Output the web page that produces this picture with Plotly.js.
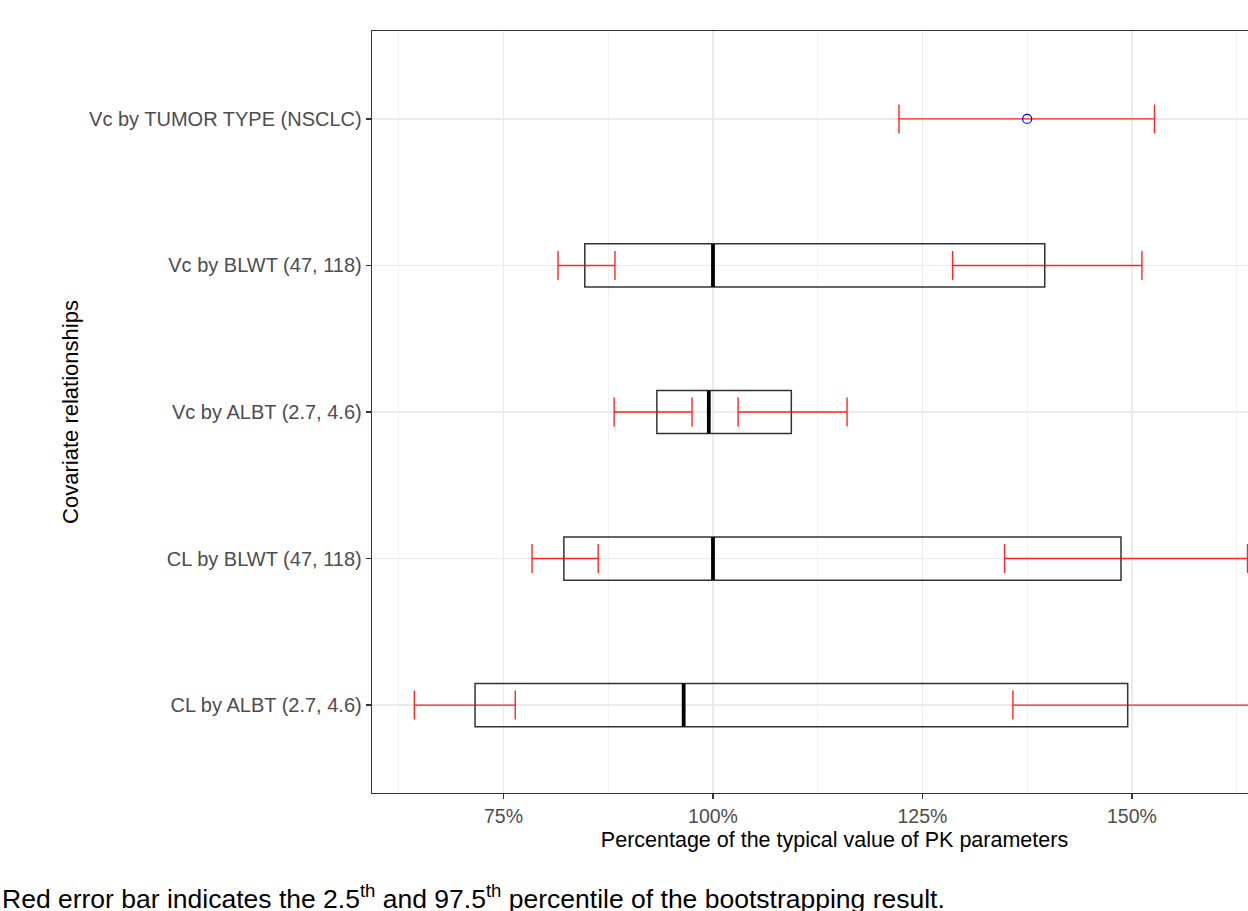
<!DOCTYPE html>
<html>
<head>
<meta charset="utf-8">
<script src="https://cdn.plot.ly/plotly-3.0.1.min.js"></script>
<style>
  html, body { margin: 0; padding: 0; overflow: hidden; background: #ffffff; }
  #chart { width: 1297px; height: 911px; }
</style>
</head>
<body>
<div id="chart"></div>
<script>
// Categories (bottom to top)
const categories = [
  "CL by ALBT (2.7, 4.6)",
  "CL by BLWT (47, 118)",
  "Vc by ALBT (2.7, 4.6)",
  "Vc by BLWT (47, 118)",
  "Vc by TUMOR TYPE (NSCLC)"
];
// Box (effect range) and median, in % of typical value
const boxLow  = [71.6, 82.2, 93.3, 84.7, null];
const boxHigh = [149.5, 148.7, 109.35, 139.6, null];
const median  = [96.5, 100.0, 99.5, 100.0, null];
// Bootstrap CI for the low end of each box
const lowCiLo = [64.35, 78.4, 88.2, 81.5, null];
const lowCiHi = [76.4, 86.3, 97.5, 88.3, null];
// Bootstrap CI for the high end of each box
const highCiLo = [135.8, 134.8, 103.0, 128.6, null];
const highCiHi = [168.0, 163.8, 116.0, 151.2, null];
// Categorical covariate: point estimate and its CI
const pointEst  = [null, null, null, null, 137.5];
const pointCiLo = [null, null, null, null, 122.2];
const pointCiHi = [null, null, null, null, 152.7];
// x ticks
const xTickVals = [75, 100, 125, 150];
const xTickText = ["75%", "100%", "125%", "150%"];

const idx = categories.map((c, i) => i);
const FONT = "Liberation Sans, Arial, sans-serif";
const RED = "rgba(255,0,0,0.85)";

function ciTrace(lo, hi) {
  const ys = [], xs = [], plus = [];
  lo.forEach((v, i) => {
    if (v !== null && hi[i] !== null) {
      ys.push(idx[i]); xs.push(v); plus.push(hi[i] - v);
    }
  });
  return {
    type: "scatter", mode: "markers", x: xs, y: ys,
    marker: { opacity: 0, size: 2 },
    error_x: { type: "data", symmetric: false, array: plus,
               arrayminus: plus.map(() => 0), color: RED,
               thickness: 1.4, width: 14.5 },
    hoverinfo: "skip", showlegend: false
  };
}

const by = [], bw = [], bb = [];
boxLow.forEach((v, i) => {
  if (v !== null) { by.push(idx[i]); bb.push(v); bw.push(boxHigh[i] - v); }
});

const traces = [
  {
    type: "bar", orientation: "h", y: by, x: bw, base: bb, width: 0.295,
    marker: { color: "rgba(255,255,255,0)", line: { color: "#333333", width: 1.5 } },
    hoverinfo: "skip", showlegend: false
  },
  {
    type: "scatter", mode: "markers",
    x: median.filter(v => v !== null),
    y: idx.filter(i => median[i] !== null),
    marker: { symbol: "line-ns", size: 30.5, color: "#000000",
              line: { color: "#000000", width: 3.8 } },
    hoverinfo: "skip", showlegend: false
  },
  ciTrace(lowCiLo, lowCiHi),
  ciTrace(highCiLo, highCiHi),
  ciTrace(pointCiLo, pointCiHi),
  {
    type: "scatter", mode: "markers",
    x: pointEst.filter(v => v !== null),
    y: idx.filter(i => pointEst[i] !== null),
    marker: { symbol: "circle-open", size: 9, color: "#0000FF",
              line: { color: "#0000FF", width: 1.2 } },
    hoverinfo: "skip", showlegend: false
  }
];

const W = 1297, H = 911, ML = 372, MT = 31, MB = 118;
const plotW = W - ML, plotH = H - MT - MB;

const layout = {
  width: W, height: H,
  margin: { l: ML, r: 0, t: MT, b: MB, pad: 0 },
  paper_bgcolor: "#ffffff", plot_bgcolor: "#ffffff",
  font: { family: FONT, color: "#000000" },
  showlegend: false, hovermode: false, barmode: "overlay",
  xaxis: {
    range: [59.3, 59.3 + plotW / 8.378],
    tickvals: xTickVals, ticktext: xTickText,
    tickfont: { family: FONT, size: 19.5, color: "#4D4D4D" },
    ticks: "outside", ticklen: 5, tickwidth: 1.3, tickcolor: "#333333",
    showgrid: true, gridcolor: "#EBEBEB", gridwidth: 1.3,
    minor: { dtick: 12.5, tick0: 0, showgrid: true, gridcolor: "#EFEFEF", gridwidth: 0.8, ticks: "" },
    showline: true, mirror: true, linecolor: "#333333", linewidth: 1.3,
    zeroline: false, automargin: false,
    title: { text: "Percentage of the typical value of PK parameters",
             font: { family: FONT, size: 21.5, color: "#000000" }, standoff: 6 }
  },
  yaxis: {
    range: [-0.6, 4.6],
    tickvals: idx, ticktext: categories,
    tickfont: { family: FONT, size: 20, color: "#4D4D4D" },
    ticks: "outside", ticklen: 5, tickwidth: 1.3, tickcolor: "#333333",
    showgrid: true, gridcolor: "#EBEBEB", gridwidth: 1.3,
    showline: true, mirror: true, linecolor: "#333333", linewidth: 1.3,
    zeroline: false, automargin: false,
    title: { text: "Covariate relationships",
             font: { family: FONT, size: 22, color: "#000000" }, standoff: 4 }
  },
  annotations: [{
    xref: "paper", yref: "paper",
    x: -ML / plotW, y: (MT + plotH - 897) / plotH,
    xanchor: "left", yanchor: "middle", showarrow: false,
    text: "Red error bar indicates the 2.5<sup>th</sup> and 97.5<sup>th</sup> percentile of the bootstrapping result.",
    font: { family: FONT, size: 26.5, color: "#000000" }
  }]
};

Plotly.newPlot("chart", traces, layout, { displayModeBar: false, staticPlot: true });
</script>
</body>
</html>
